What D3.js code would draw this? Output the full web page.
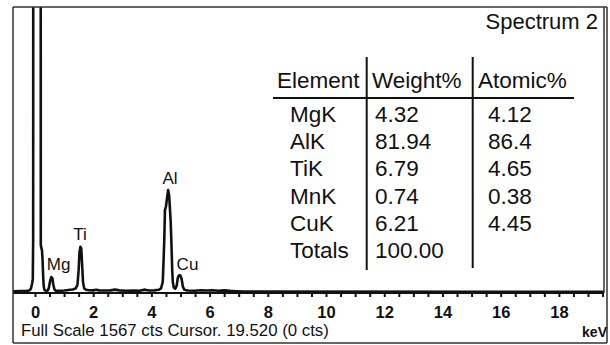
<!DOCTYPE html>
<html><head><meta charset="utf-8">
<script src="https://cdn.jsdelivr.net/npm/d3@7"></script>
<style>
body{margin:0;background:#fff}
svg{display:block}
text{font-family:"Liberation Sans",Arial,Helvetica,sans-serif;fill:#111}
</style>
</head><body>
<svg id="c" width="610" height="345"></svg>
<script>
// ---- data ----
const specKeV = [-0.76,-0.5,-0.3,-0.2,-0.14,-0.1,-0.075,-0.062,-0.058,0.195,0.2,0.215,0.24,0.26,0.28,0.3,0.33,0.38,0.44,0.48,0.52,0.56,0.6,0.63,0.67,0.72,0.85,1.0,1.1,1.2,1.3,1.4,1.46,1.5,1.53,1.56,1.59,1.62,1.65,1.69,1.75,1.85,2.0,2.1,2.2,2.4,2.6,2.75,2.9,3.1,3.4,3.6,3.78,3.9,4.1,4.25,4.33,4.39,4.42,4.445,4.465,4.5,4.54,4.575,4.61,4.64,4.66,4.675,4.695,4.715,4.735,4.77,4.82,4.87,4.91,4.95,5.0,5.04,5.08,5.13,5.25,5.5,5.7,5.9,6.1,6.3,6.5,6.7,6.9,7.2,19.55];
const specCts = [4,5,6,8,18,45,70,300,3000,3000,260,245,230,180,90,30,10,6,8,25,60,82,75,40,14,7,6,8,10,12,14,20,40,120,220,248,240,150,55,20,12,10,9,12,9,8,9,13,9,7,8,7,13,8,9,12,20,55,180,300,450,470,520,561,530,450,396,330,231,120,55,25,18,35,80,92,90,70,30,12,8,7,10,8,10,7,9,6,4,2,1];
const peakLabels = ["Mg","Ti","Al","Cu"];
const peakLabelKeV = [0.81,1.55,4.64,5.24];
const peakLabelCts = [121,286,594,121];
const xTickValues = d3.range(0, 19.51, 0.5);
const xTickLabels = ["0","2","4","6","8","10","12","14","16","18"];
const tableHeader = ["Element","Weight%","Atomic%"];
const tableElements = ["MgK","AlK","TiK","MnK","CuK","Totals"];
const tableWeight = ["4.32","81.94","6.79","0.74","6.21","100.00"];
const tableAtomic = ["4.12","86.4","4.65","0.38","4.45",""];
const specTitle = "Spectrum 2";
const footerText = "Full Scale 1567 cts Cursor. 19.520 (0 cts)";
const unitText = "keV";
const fullScale = 1567;

// ---- drawing ----
const svg = d3.select("#c");
const L = 13, R = 604, T = 7, B = 293;
const x = d3.scaleLinear().domain([-0.755, 19.55]).range([L, R]);
const y = d3.scaleLinear().domain([0, fullScale]).range([292, T]);

svg.append("defs").append("clipPath").attr("id","clip")
  .append("rect").attr("x",L).attr("y",T).attr("width",R-L).attr("height",B-T);

const pts = specKeV.map((k,i)=>[k, specCts[i]]);
svg.append("path").datum(pts)
  .attr("clip-path","url(#clip)")
  .attr("fill","none").attr("stroke","#111").attr("stroke-width",2.6)
  .attr("stroke-linejoin","round")
  .attr("d", d3.line().x(d=>x(d[0])).y(d=>y(d[1])));

// peak labels
svg.selectAll("text.pk").data(peakLabels).join("text").attr("class","pk")
  .attr("x",(d,i)=>x(peakLabelKeV[i])).attr("y",(d,i)=>y(peakLabelCts[i]))
  .attr("text-anchor","middle").attr("font-size",17).text(d=>d);

// x axis
const ax = svg.append("g").attr("transform",`translate(0,${B})`)
  .call(d3.axisBottom(x).tickValues(xTickValues).tickSize(4)
    .tickFormat(d => (d % 2 === 0) ? xTickLabels[d/2] : ""));
ax.select(".domain").remove();
ax.selectAll(".tick line").attr("stroke","#111").attr("stroke-width",2);
ax.selectAll(".tick text").attr("y",25).attr("dy",0)
  .attr("font-size",16.5).attr("font-weight","bold")
  .attr("font-family",'"Liberation Sans",Arial,sans-serif').attr("fill","#111");

// frames
const ln = (x1,y1,x2,y2,w,c)=>svg.append("line").attr("x1",x1).attr("y1",y1).attr("x2",x2).attr("y2",y2)
  .attr("stroke",c||"#333").attr("stroke-width",w||1.5);
ln(L, B, R, B, 2, "#111");
ln(L, T, 607, T, 1.5);
ln(L, T, L, 343, 1.5);
ln(R, T, R, B, 1.5);
ln(607, T, 607, 343, 1.5);
ln(L, 343, 607, 343, 1.5);

// title
svg.append("text").attr("x",598).attr("y",29).attr("text-anchor","end")
  .attr("font-size",22).text(specTitle);

// footer
svg.append("text").attr("x",21).attr("y",336).attr("font-size",16.8).text(footerText);
svg.append("text").attr("x",607).attr("y",337).attr("text-anchor","end")
  .attr("font-size",14).attr("font-weight","bold").text(unitText);

// table
const hdrX = [277, 372, 478];
const colX = [290, 375, 488];
const rowY = i => 122 + i*27.2;
svg.selectAll("text.hd").data(tableHeader).join("text").attr("class","hd")
  .attr("x",(d,i)=>hdrX[i]).attr("y",88).attr("font-size",22.5).text(d=>d);
[tableElements, tableWeight, tableAtomic].forEach((col,c)=>{
  svg.selectAll("text.c"+c).data(col).join("text").attr("class","c"+c)
    .attr("x",colX[c]).attr("y",(d,i)=>rowY(i)).attr("font-size",22.5).text(d=>d);
});
ln(366.7, 57, 366.7, 270, 2, "#111");
ln(472.7, 57, 472.7, 268, 2, "#111");
ln(273, 98, 574, 98, 2, "#111");
</script>
</body></html>
